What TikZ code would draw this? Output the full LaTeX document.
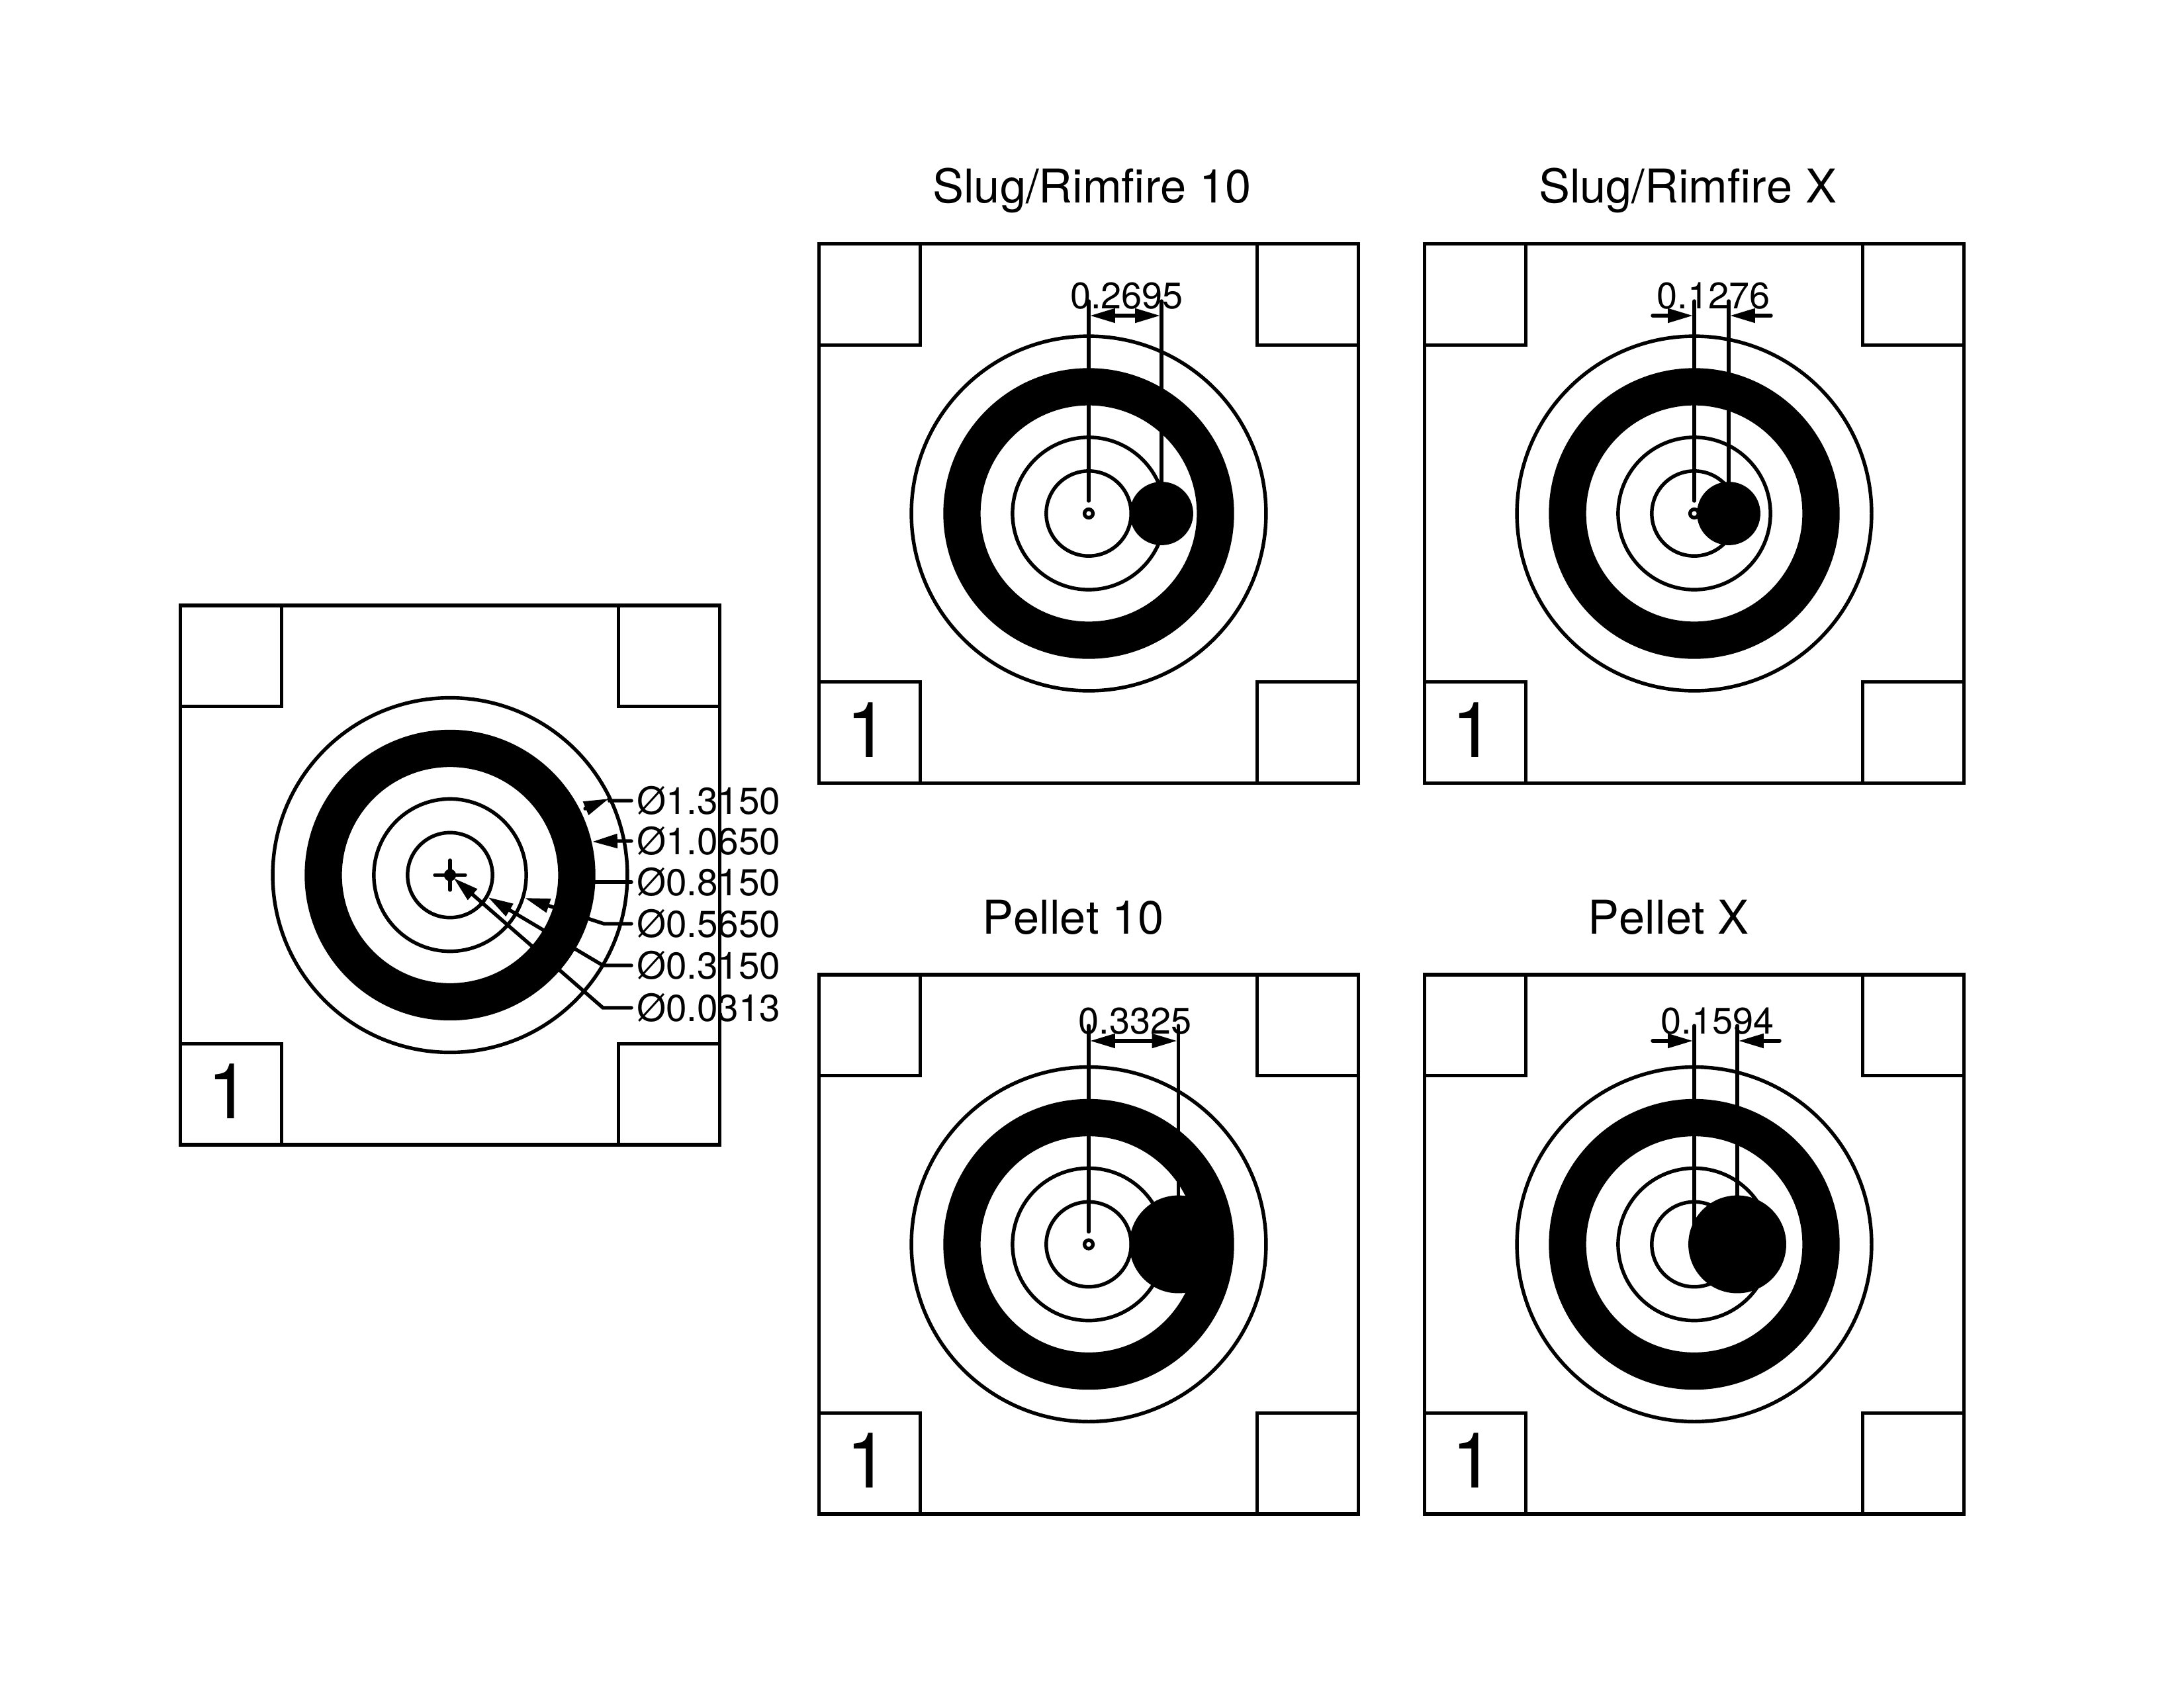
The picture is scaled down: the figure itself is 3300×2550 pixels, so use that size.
\documentclass[tikz,border=0pt]{standalone}
\usepackage{fontspec}
\setmainfont[Kerning=Off]{TeX Gyre Heros}
\usetikzlibrary{arrows.meta}
\tikzset{
  ln/.style={line width=1.3pt,line cap=round,line join=miter,draw=black},
  boxln/.style={line width=1.25pt,line cap=round,line join=miter,draw=black},
  ringc/.style={ln,circle,inner sep=0pt,outer sep=0pt,minimum size=#1,fill=white},
  blackc/.style={ln,circle,inner sep=0pt,outer sep=0pt,minimum size=#1,fill=black},
  panelbox/.style={boxln,rectangle,inner sep=0pt,outer sep=0pt,minimum size=195.6pt},
  dimtext/.style={inner sep=0pt,outer sep=0pt,anchor=base,font=\fontsize{13.4pt}{15pt}\selectfont},
  leadertext/.style={inner sep=0pt,outer sep=0pt,anchor=base west,font=\fontsize{13.6pt}{15pt}\selectfont},
  titletext/.style={inner sep=0pt,outer sep=0pt,anchor=base,font=\fontsize{16.9pt}{19pt}\selectfont},
  bigone/.style={inner sep=0pt,outer sep=0pt,anchor=base,font=\fontsize{28pt}{30pt}\selectfont},
  tip/.style={-{Triangle[length=9.1pt,width=5pt]}},
  twotip/.style={{Triangle[length=9.1pt,width=5pt]}-{Triangle[length=9.1pt,width=5pt]}},
  target/.pic={
    \node[panelbox] (sq) at (0,0) {};
    \draw[boxln] (sq.north west) rectangle ++(152.8,152.8);
    \draw[boxln] (sq.north east) rectangle ++(-152.8,152.8);
    \draw[boxln] (sq.south east) rectangle ++(-152.8,-152.8);
    \draw[boxln] (sq.south west) rectangle ++(152.8,-152.8);
    \node[ringc=128.61pt] (r1) at (0,0) {};
    \node[blackc=104.16pt] (r2) at (0,0) {};
    \node[ringc=79.71pt] (r3) at (0,0) {};
    \node[ringc=55.26pt] (r4) at (0,0) {};
    \node[ringc=30.81pt] (r5) at (0,0) {};
    \node[ringc=3.06pt] (r6) at (0,0) {};
    \node[bigone] (one) at (-334.5,368) {1};
  }
}
\begin{document}
\begin{tikzpicture}[x=0.24pt,y=-0.24pt]
\useasboundingbox (0,0) rectangle (3300,2550);
% targets
\pic (L-) at (680,1322.5) {target};
\pic (A-) at (1645,776) {target};
\pic (B-) at (2560,776) {target};
\pic (C-) at (1645,1880.5) {target};
\pic (D-) at (2560,1880.5) {target};
% titles
\node[titletext] (tA) at (1650,306) {Slug/Rimfire 10};
\node[titletext] (tB) at (2550,306) {Slug/Rimfire X};
\node[titletext] (tC) at (1621.5,1411) {Pellet 10};
\node[titletext] (tD) at (2521,1411) {Pellet X};
% extension lines
\coordinate (A1t) at (1645,455); \coordinate (A1b) at (1645,757);
\coordinate (A2t) at (1755,455);
\coordinate (B1t) at (2560,455); \coordinate (B1b) at (2560,757);
\coordinate (B2t) at (2612,455);
\coordinate (C1t) at (1645,1550); \coordinate (C1b) at (1645,1861.5);
\coordinate (C2t) at (1780.5,1550);
\coordinate (D1t) at (2560,1550); \coordinate (D1b) at (2560,1861.5);
\coordinate (D2t) at (2625,1550);
\draw[ln] (A1t) -- (A1b);
\draw[ln] (B1t) -- (B1b);
\draw[ln] (C1t) -- (C1b);
\draw[ln] (D1t) -- (D1b);
% hits
\node[blackc=21.7pt] (Ah) at (1755,776) {};
\node[blackc=21.7pt] (Bh) at (2612,776) {};
\node[blackc=34.2pt] (Ch) at (1780.5,1880.5) {};
\node[blackc=34.2pt] (Dh) at (2625,1880.5) {};
\draw[ln] (A2t) -- (Ah.north);
\draw[ln] (B2t) -- (Bh.north);
\draw[ln] (C2t) -- (Ch.north);
\draw[ln] (D2t) -- (Dh.north);
% dimension lines
\coordinate (Ad1) at (1647,477); \coordinate (Ad2) at (1753,477);
\coordinate (Bd1) at (2558,477); \coordinate (Bd2) at (2614,477);
\coordinate (Bt1) at (2497,477); \coordinate (Bt2) at (2676,477);
\coordinate (Cd1) at (1647,1573); \coordinate (Cd2) at (1778.5,1573);
\coordinate (Dd1) at (2558,1573); \coordinate (Dd2) at (2627,1573);
\coordinate (Dt1) at (2497,1573); \coordinate (Dt2) at (2689,1573);
\draw[ln,twotip] (Ad1) -- (Ad2);
\draw[ln,tip] (Bt1) -- (Bd1);
\draw[ln,tip] (Bt2) -- (Bd2);
\draw[ln,twotip] (Cd1) -- (Cd2);
\draw[ln,tip] (Dt1) -- (Dd1);
\draw[ln,tip] (Dt2) -- (Dd2);
\node[dimtext] (Av) at (1702.5,466.5) {0.2695};
\node[dimtext] (Bv) at (2589,466.5) {0.1276};
\node[dimtext] (Cv) at (1715,1562) {0.3325};
\node[dimtext] (Dv) at (2595,1562) {0.1594};
% centre cross
\coordinate (Xw) at (657,1322.5); \coordinate (Xe) at (703,1322.5);
\coordinate (Xn) at (680,1300); \coordinate (Xs) at (680,1345);
\draw[ln] (Xw) -- (Xe);
\draw[ln] (Xn) -- (Xs);
% leader labels
\node[leadertext] (L1) at (962,1230) {Ø1.3150};
\node[leadertext] (L2) at (962,1291) {Ø1.0650};
\node[leadertext] (L3) at (962,1353) {Ø0.8150};
\node[leadertext] (L4) at (962,1416) {Ø0.5650};
\node[leadertext] (L5) at (962,1479) {Ø0.3150};
\node[leadertext] (L6) at (962,1543) {Ø0.0313};
% leaders
\coordinate (a1) at (954,1210); \coordinate (k1) at (921,1210); \coordinate (b1) at (884,1222); \coordinate (t1) at (920,1207);
\coordinate (a2) at (954,1271); \coordinate (k2) at (932,1271); \coordinate (t2) at (895,1272);
\coordinate (a3) at (954,1333); \coordinate (t3) at (875,1333);
\coordinate (a4) at (954,1396); \coordinate (k4) at (912.5,1396); \coordinate (t4) at (793,1357);
\coordinate (a5) at (954,1459); \coordinate (k5) at (911,1459); \coordinate (t5) at (737.5,1356);
\coordinate (a6) at (954,1523); \coordinate (k6) at (911,1523); \coordinate (t6) at (685.5,1327);
\draw[ln] (a1) -- (k1) -- (t1);
\draw[ln,tip] (b1) -- (t1);
\draw[ln,tip] (a2) -- (k2) -- (t2);
\draw[ln] (a3) -- (t3);
\draw[ln,tip] (a4) -- (k4) -- (t4);
\draw[ln,tip] (a5) -- (k5) -- (t5);
\draw[ln,tip] (a6) -- (k6) -- (t6);
\end{tikzpicture}
\end{document}
